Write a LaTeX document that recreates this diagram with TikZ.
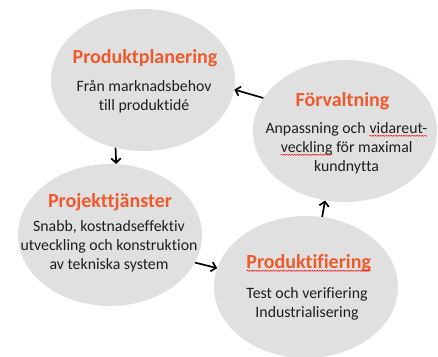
\documentclass[tikz,border=0pt]{standalone}
\usepackage{fontspec}
\setmainfont[Ligatures=NoCommon]{Carlito}
\usetikzlibrary{shapes.geometric,arrows.meta,decorations.pathmorphing}
\definecolor{ttl}{HTML}{EE5A2C}
\definecolor{bub}{HTML}{E0E0E0}
\definecolor{txt}{HTML}{1E1E1E}
\newcommand\spellwave[1]{\tikz[baseline=(sw.base)]{\node[inner sep=0pt,outer sep=0pt,anchor=base](sw){#1};\draw[red, line width=0.45pt, decorate, decoration={snake, segment length=2.6pt, amplitude=0.6pt}] ([yshift=-2.8pt]sw.base west) -- ([yshift=-2.8pt]sw.base east);}}
\begin{document}
\begin{tikzpicture}[x=1pt,y=-1pt,
  bubble/.style={ellipse, fill=bub, minimum width=184pt, minimum height=142pt, inner sep=0pt},
  title/.style={font=\fontsize{20}{24}\selectfont\bfseries, text=ttl, anchor=base, inner sep=0pt},
  body/.style={font=\fontsize{15.8}{19}\selectfont, text=txt, align=center, anchor=base, inner sep=0pt},
  arr/.style={-{Straight Barb[length=4.5pt,width=9.5pt]}, line width=1.7pt}]
\useasboundingbox (0,0) rectangle (438,356);
\node[bubble] (e1) at (143,80) {};
\node[bubble] (e2) at (345,131) {};
\node[bubble] (e3) at (110,235) {};
\node[bubble] (e4) at (306,287) {};
% body nodes: base anchor is the baseline of the last line
\node[title] (h1) at (145,63) {Produktplanering};
\node[body] (b1) at (144,110) {Från marknadsbehov\\till produktidé};
\node[title] (h2) at (342.5,106) {Förvaltning};
\node[body] (b2) at (346.5,171) {Anpassning och \spellwave{vidareut-}\\\spellwave{veckling} för maximal\\kundnytta};
\node[title] (h3) at (110,207) {Projekttjänster};
\node[body] (b3) at (109,269) {Snabb, kostnadseffektiv\\utveckling och konstruktion\\av tekniska system};
\node[title] (h4) at (308.7,268) {\spellwave{Produktifiering}};
\node[body] (b4) at (307,317) {Test och verifiering\\Industrialisering};
\draw[arr] (e2.158) -- (e1.-6);
\draw[arr] (e1.248) -- (e3.85);
\draw[arr] (e3.-18) -- (e4.168);
\draw[arr] (e4.77) -- (e2.254);
\end{tikzpicture}
\end{document}
